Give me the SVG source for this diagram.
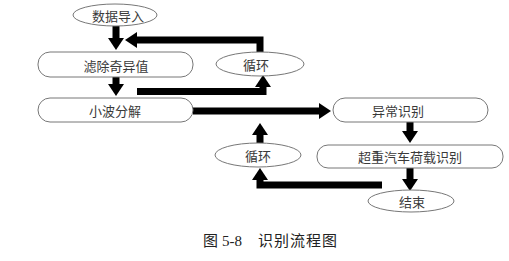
<svg xmlns="http://www.w3.org/2000/svg" width="509" height="261" viewBox="0 0 509 261">
<defs>
<marker id="ah" markerUnits="userSpaceOnUse" markerWidth="13" markerHeight="17" refX="0" refY="8" orient="auto" overflow="visible">
<path d="M0,0 L12,8 L0,16 z" fill="#000"/>
</marker>
<style>
.n{fill:#fff;stroke:#777;stroke-width:1}
.t{font-family:"Noto Sans CJK SC",sans-serif;font-size:13px;fill:#3a3a3a;text-anchor:middle;dominant-baseline:central}
.c{fill:none;stroke:#000;stroke-width:7;stroke-linejoin:miter;marker-end:url(#ah)}
.cap{font-family:"Liberation Serif","Noto Sans CJK SC",serif;font-size:15px;fill:#222}
</style>
</defs>
<rect width="509" height="261" fill="#fff"/>
<g id="connectors">
<path class="c" d="M116,26 V38"/>
<path class="c" d="M116,77 V84"/>
<path class="c" d="M260,52 V40 H137"/>
<path class="c" d="M137,91.5 H263 V87"/>
<path class="c" d="M193,111 H319"/>
<path class="c" d="M410,122 V131"/>
<path class="c" d="M410,168 V179"/>
<path class="c" d="M382,185 H260 V180"/>
<path class="c" d="M260,143 V135"/>
</g>
<g id="n-import"><ellipse class="n" cx="115" cy="15" rx="42" ry="11"/><text class="t" x="118" y="15">数据导入</text></g>
<g id="n-filter"><rect class="n" x="38" y="52" width="155" height="25" rx="12"/><text class="t" x="116" y="65">滤除奇异值</text></g>
<g id="n-loop1"><ellipse class="n" cx="260" cy="64" rx="44" ry="12"/><text class="t" x="256" y="64">循环</text></g>
<g id="n-wavelet"><rect class="n" x="38" y="98" width="155" height="24" rx="12"/><text class="t" x="115" y="110">小波分解</text></g>
<g id="n-anomaly"><rect class="n" x="333" y="98" width="155" height="24" rx="12"/><text class="t" x="398" y="110">异常识别</text></g>
<g id="n-overload"><rect class="n" x="317" y="145" width="186" height="23" rx="11"/><text class="t" x="410" y="156.5">超重汽车荷载识别</text></g>
<g id="n-loop2"><ellipse class="n" cx="258" cy="155" rx="43" ry="12"/><text class="t" x="258" y="155">循环</text></g>
<g id="n-end"><ellipse class="n" cx="411" cy="201" rx="43" ry="11"/><text class="t" x="412" y="201">结束</text></g>
<text class="cap" y="246"><tspan x="203">图</tspan><tspan x="222">5-8</tspan><tspan x="258" letter-spacing="1">识别流程图</tspan></text>
</svg>
